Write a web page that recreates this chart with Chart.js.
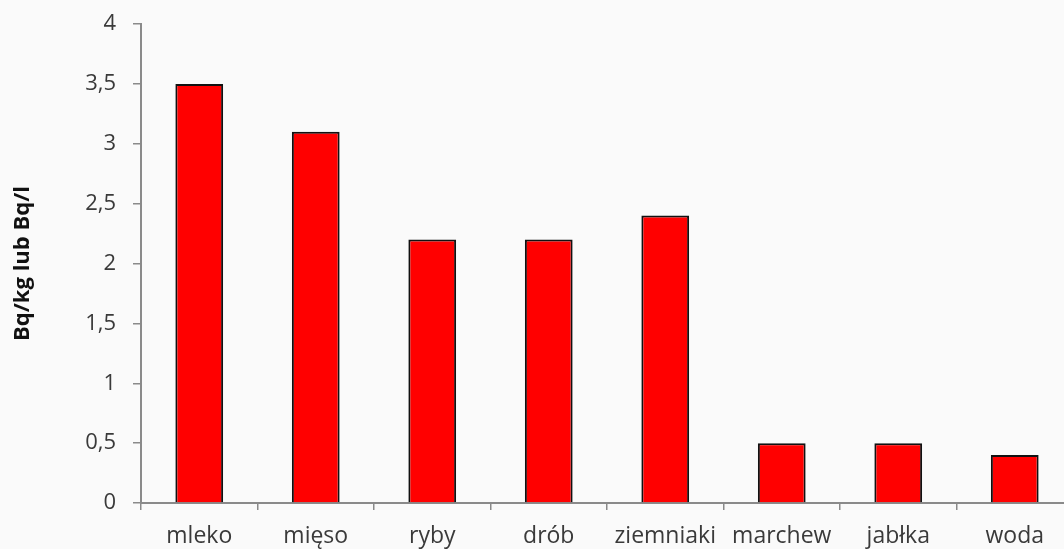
<!DOCTYPE html>
<html>
<head>
<meta charset="utf-8">
<script src="https://cdn.jsdelivr.net/npm/chart.js@4"></script>
<style>
  html, body { margin: 0; padding: 0; background: #fafafa; overflow: hidden; }
  #wrap { width: 1075px; height: 549px; }
</style>
</head>
<body>
<div id="wrap"><canvas id="myChart"></canvas></div>
<script>
const categories = ["mleko", "mięso", "ryby", "drób", "ziemniaki", "marchew", "jabłka", "woda"];
const values = [3.5, 3.1, 2.2, 2.2, 2.4, 0.5, 0.5, 0.4];
const yTicks = [0, 0.5, 1, 1.5, 2, 2.5, 3, 3.5, 4];
const yTitle = "Bq/kg lub Bq/l";

const axisColor = "#8a8a8a";
const textColor = "#3a3a3a";
const font = "'Open Sans', sans-serif";

new Chart("myChart", {
    type: "bar",
    data: {
        labels: categories,
        datasets: [{
            data: values,
            backgroundColor: "#ff0000",
            borderColor: "#111111",
            borderWidth: 2,
            barPercentage: 0.41,
            categoryPercentage: 1
        }]
    },
    options: {
        responsive: true,
        maintainAspectRatio: false,
        animation: false,
        layout: { padding: { top: 24, right: 2, left: 0, bottom: 0 } },
        plugins: {
            legend: { display: false },
            tooltip: { enabled: false }
        },
        scales: {
            x: {
                grid: { display: true, drawOnChartArea: false, offset: true, color: axisColor, tickLength: 7, lineWidth: 1.5 },
                border: { color: axisColor, width: 2 },
                ticks: { color: textColor, font: { family: font, size: 23 }, padding: 13, maxRotation: 0, autoSkip: false },
                afterFit: function (scale) { scale.height = 46; }
            },
            y: {
                min: 0,
                max: 4,
                afterBuildTicks: function (scale) {
                    scale.ticks = yTicks.map(function (v) { return { value: v }; });
                },
                grid: { display: true, drawOnChartArea: false, color: axisColor, tickLength: 8, lineWidth: 1.5 },
                border: { color: axisColor, width: 2 },
                ticks: {
                    color: textColor,
                    font: { family: font, size: 22 },
                    padding: 17,
                    callback: function (v) { return String(v).replace(".", ","); }
                },
                title: {
                    display: true,
                    text: yTitle,
                    color: "#111111",
                    font: { family: font, size: 22, weight: "bold" },
                    padding: { top: 10, bottom: 0 }
                },
                afterFit: function (scale) {
                    scale.width = 141;
                    scale.paddingTop = 0;
                    scale.paddingBottom = 0;
                }
            }
        }
    }
});
</script>
</body>
</html>
